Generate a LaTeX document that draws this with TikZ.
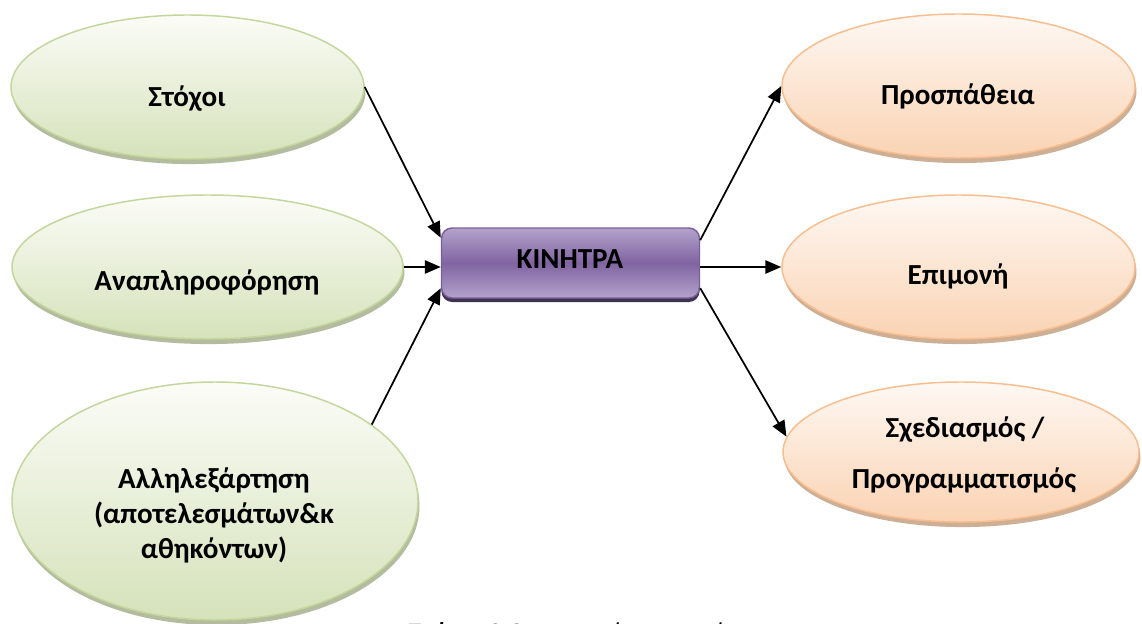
\documentclass[tikz,border=0pt]{standalone}
\usepackage{fontspec}
\setmainfont{Carlito}
\usetikzlibrary{arrows.meta,shadows,shapes.geometric}

\definecolor{grnline}{HTML}{C3D69B}
\definecolor{grntop}{HTML}{FBFCF7}
\definecolor{grnbot}{HTML}{D5E2BA}
\definecolor{grnband}{HTML}{B3BC9E}
\definecolor{orgline}{HTML}{F9BD8E}
\definecolor{orgtop}{HTML}{FEF8F3}
\definecolor{orgbot}{HTML}{FAD3B3}
\definecolor{orgband}{HTML}{CDAF95}
\definecolor{purtop}{HTML}{B3A3CA}
\definecolor{purmid}{HTML}{8064A2}
\definecolor{purline}{HTML}{7A5E9C}
\definecolor{purshadow}{HTML}{3F3151}

\begin{document}
\begin{tikzpicture}[x=0.75pt,y=-0.75pt,
  lbl/.style={anchor=base, inner sep=0pt, font=\fontsize{21.8}{26}\selectfont\bfseries},
  gell/.style={ellipse, inner sep=0pt, draw=grnline, line width=1.1pt,
    top color=grntop, bottom color=grnbot,
    general shadow={fill=grnband, shadow xshift=1.1pt, shadow yshift=-3.8pt}},
  oell/.style={ellipse, inner sep=0pt, draw=orgline, line width=1.1pt,
    top color=orgtop, bottom color=orgbot,
    general shadow={fill=orgband, shadow xshift=1.1pt, shadow yshift=-3.8pt}},
  hub/.style={rectangle, rounded corners=8pt, inner sep=0pt,
    minimum width=193.5pt, minimum height=52.5pt,
    draw=purline, line width=1.1pt,
    top color=purtop, bottom color=purtop, middle color=purmid,
    general shadow={fill=purshadow, shadow yshift=-3pt}},
  arr/.style={line width=1.3pt, -{Triangle[length=12pt,width=10pt]}}
]
\useasboundingbox (0,0) rectangle (1142,624);
\fill[white] (0,0) rectangle (1142,624);

% influencing factors (left)
\node[gell, minimum width=264.75pt, minimum height=108pt] (e1) at (187.5,87) {};
\node[gell, minimum width=293.25pt, minimum height=108pt] (e2) at (207.5,267) {};
\node[gell, minimum width=304.5pt, minimum height=178.5pt] (e3) at (215,501) {};

% outcomes (right)
\node[oell, minimum width=264.75pt, minimum height=108pt] (o1) at (958.5,86) {};
\node[oell, minimum width=264.75pt, minimum height=108pt] (o2) at (958.5,267) {};
\node[oell, minimum width=267pt, minimum height=105pt] (o3) at (961,452) {};

% central box
\node[hub] (box) at (570.5,263) {};

% texts
\node[lbl] (t1) at (187,107) {Στόχοι};
\node[lbl] (t2) at (207,290) {Αναπληροφόρηση};
\node[lbl] (t3a) at (214,488) {Αλληλεξάρτηση};
\node[lbl] (t3b) at (214,523) {(αποτελεσμάτων\&κ};
\node[lbl] (t3c) at (214,558) {αθηκόντων)};
\node[lbl] (u1) at (958,105) {Προσπάθεια};
\node[lbl] (u2) at (958,284) {Επιμονή};
\node[lbl] (u3a) at (965,437) {Σχεδιασμός /};
\node[lbl] (u3b) at (964,488) {Προγραμματισμός};
\node[lbl] (hubtxt) at (570,268) {ΚΙΝΗΤΡΑ};

% connectors
\draw[arr] (e1.east) -- (box.169.5);
\draw[arr] (e2.east) -- (e2.east -| box.west);
\draw[arr] (e3.26) -- (box.191);
\draw[arr] (box.10) -- (o1.west);
\draw[arr] (box.east |- o2.west) -- (o2.west);
\draw[arr] (box.-11) -- (o3.175);

% caption, running off the lower edge
\begin{scope}
\clip (0,0) rectangle (1142,624);
\node[anchor=base west, inner sep=0pt, font=\fontsize{21}{25}\selectfont] (cap) at (408,642)
  {\textbf{Σχήμα 3.2} Επιρροή των κινήτρων};
\end{scope}
\end{tikzpicture}
\end{document}
